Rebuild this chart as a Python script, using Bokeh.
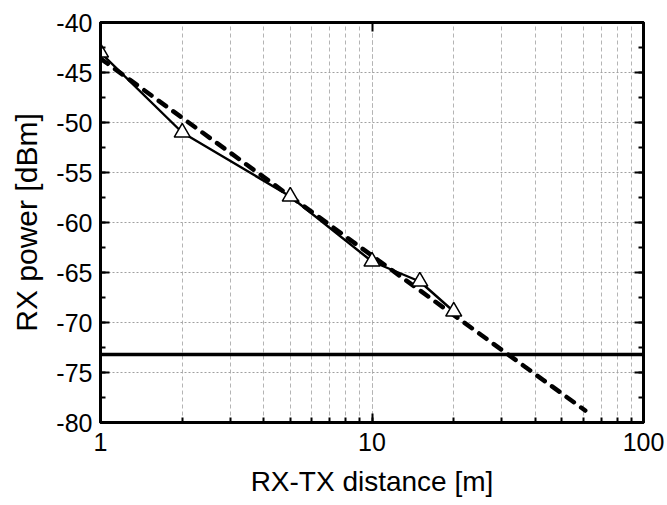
from bokeh.plotting import figure
from bokeh.models import LogAxis, LinearAxis, LogTicker, SingleIntervalTicker, Span
from bokeh.embed import file_html
from bokeh.resources import INLINE

# data
dist_meas = [1, 2, 5, 10, 15, 20]
power_meas = [-43.0, -51.0, -57.4, -63.9, -65.9, -68.9]
dist_model = [1, 61]
power_model = [-43.6, -78.8]
sensitivity = -73.2
x_ticks = [1, 10, 100]
x_tick_labels = ["1", "10", "100"]
y_ticks = [-80, -75, -70, -65, -60, -55, -50, -45, -40]
y_tick_labels = ["-80", "-75", "-70", "-65", "-60", "-55", "-50", "-45", "-40"]

FONT = "Liberation Sans"

p = figure(width=667, height=505, x_axis_type="log", x_range=(1, 100), y_range=(-80, -40),
           output_backend="svg", toolbar_location=None,
           min_border_left=100, min_border_right=24, min_border_top=22, min_border_bottom=83,
           background_fill_color="white", border_fill_color="white")

p.outline_line_color = "black"
p.outline_line_width = 3
p.outline_line_alpha = 1

# grids
p.xgrid.ticker = LogTicker(num_minor_ticks=10)
p.xgrid.grid_line_color = "#b4b4b4"
p.xgrid.grid_line_dash = "4 3"
p.xgrid.grid_line_width = 1
p.xgrid.minor_grid_line_color = "#b4b4b4"
p.xgrid.minor_grid_line_dash = "4 3"
p.xgrid.minor_grid_line_width = 1
p.ygrid.ticker = SingleIntervalTicker(interval=5, num_minor_ticks=2)
p.ygrid.grid_line_color = "#a0a0a0"
p.ygrid.grid_line_dash = "2 2"
p.ygrid.grid_line_width = 1

# axes
xa = p.xaxis[0]
xa.ticker = LogTicker(num_minor_ticks=10)
xa.major_label_overrides = dict(zip(x_ticks, x_tick_labels))
xa.axis_label = "RX-TX distance [m]"
ya = p.yaxis[0]
ya.ticker = SingleIntervalTicker(interval=5, num_minor_ticks=2)
ya.major_label_overrides = dict(zip(y_ticks, y_tick_labels))
ya.axis_label = "RX power [dBm]"
for ax in (xa, ya):
    ax.axis_line_width = 3
    ax.axis_line_color = "black"
    ax.major_tick_in = 9
    ax.major_tick_out = 0
    ax.minor_tick_in = 5
    ax.minor_tick_out = 0
    ax.major_tick_line_width = 2
    ax.minor_tick_line_width = 2
    ax.major_tick_line_color = "black"
    ax.minor_tick_line_color = "black"
    ax.major_label_text_font = FONT
    ax.major_label_text_font_size = "25px"
    ax.major_label_text_color = "black"
    ax.axis_label_text_font = FONT
    ax.axis_label_text_font_style = "normal"
    ax.axis_label_text_color = "black"
xa.axis_label_text_font_size = "28px"
ya.axis_label_text_font_size = "30px"
xa.major_label_standoff = 10
xa.axis_label_standoff = 12
ya.major_label_standoff = 8
ya.axis_label_standoff = 10

top = LogAxis(ticker=LogTicker(num_minor_ticks=10))
right = LinearAxis(ticker=SingleIntervalTicker(interval=5, num_minor_ticks=2))
for ax in (top, right):
    ax.axis_line_width = 3
    ax.axis_line_color = "black"
    ax.major_tick_in = 9
    ax.major_tick_out = 0
    ax.major_tick_line_width = 2
    ax.minor_tick_line_width = 2
    ax.major_label_text_font_size = "1px"
    ax.major_label_text_alpha = 0
    ax.major_label_standoff = 0
top.minor_tick_in = 0
top.minor_tick_out = 0
right.minor_tick_in = 5
right.minor_tick_out = 0
p.add_layout(top, "above")
p.add_layout(right, "right")

# threshold line
p.add_layout(Span(location=sensitivity, dimension="width", line_color="black", line_width=3.5))

# model (dashed)
p.line(dist_model, power_model, line_color="black", line_width=4.5, line_dash="9 9", line_cap="round")

# measured
p.line(dist_meas, power_meas, line_color="black", line_width=2.4)
p.scatter(dist_meas, power_meas, marker="triangle", size=16, fill_color="white",
          line_color="black", line_width=1.5)

open("out.html", "w").write(file_html(p, INLINE))
